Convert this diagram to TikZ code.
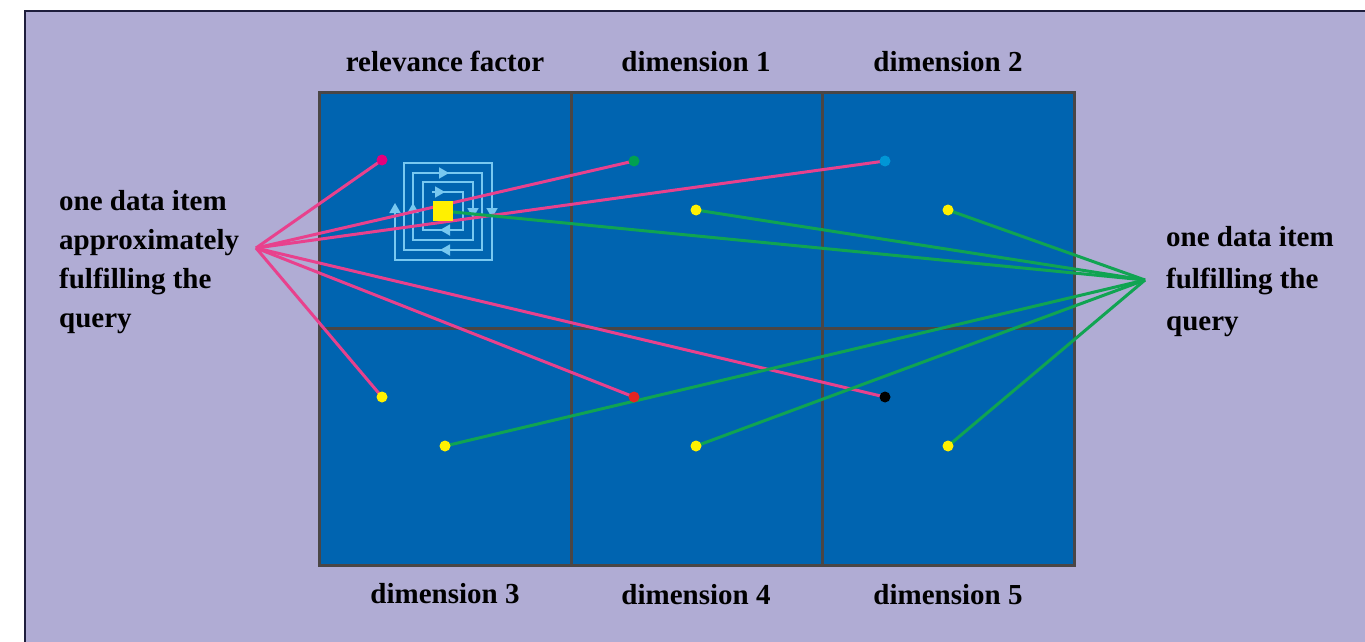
\documentclass[tikz,border=0pt]{standalone}
\usepackage{fontspec}
\setmainfont{Liberation Serif}
\usetikzlibrary{arrows.meta,backgrounds}

\definecolor{lavender}{HTML}{B0ACD4}
\definecolor{frame}{HTML}{1E1E3C}
\definecolor{cellblue}{HTML}{0064B0}
\definecolor{gridgray}{HTML}{4A4646}
\definecolor{spiralblue}{HTML}{78C8F0}
\definecolor{pinkline}{HTML}{E8418D}
\definecolor{greenline}{HTML}{10A452}
\definecolor{dotmagenta}{HTML}{E4007C}
\definecolor{dotgreen}{HTML}{00A050}
\definecolor{dotcyan}{HTML}{0096D6}
\definecolor{dotyellow}{HTML}{FFF000}
\definecolor{dotred}{HTML}{E52421}

\tikzset{
  dimtext/.style={font=\fontsize{29}{35}\selectfont\bfseries,inner sep=0pt},
  sidetext/.style={font=\fontsize{29}{#1}\selectfont\bfseries,inner sep=0pt,align=left},
  dot/.style={circle,fill=#1,inner sep=0pt,minimum size=11pt},
  spiral/.style={draw=spiralblue,line width=1.8pt},
  tip/.style={spiral,-{Triangle[length=10pt,width=11pt]}},
  pinkwire/.style={draw=pinkline,line width=3pt},
  greenwire/.style={draw=greenline,line width=3pt},
}

\begin{document}
\begin{tikzpicture}[x=1pt,y=-1pt]
  \useasboundingbox (0,0) rectangle (1365,642);
  \clip (0,0) rectangle (1365,642);

  % labels
  \node[dimtext,anchor=base] (rel) at (445,71) {relevance factor};
  \node[dimtext,anchor=base] (dim1) at (696,71) {dimension 1};
  \node[dimtext,anchor=base] (dim2) at (948,71) {dimension 2};
  \node[dimtext,anchor=base] (dim3) at (445,603) {dimension 3};
  \node[dimtext,anchor=base] (dim4) at (696,604) {dimension 4};
  \node[dimtext,anchor=base] (dim5) at (948,604) {dimension 5};
  \node[sidetext=39,anchor=base west] (approx) at (59,327)
    {one data item\\approximately\\fulfilling the\\query};
  \node[sidetext=42,anchor=base west] (exact) at (1166,330)
    {one data item\\fulfilling the\\query};

  \coordinate (hubL) at (256,248);
  \coordinate (hubR) at (1145,280);

  % data items
  \node[dot=dotmagenta] (a1) at (382,160) {};
  \node[dot=dotgreen] (a2) at (634,161) {};
  \node[dot=dotcyan] (a3) at (885,161) {};
  \node[dot=dotyellow] (a4) at (382,397) {};
  \node[dot=dotred] (a5) at (634,397) {};
  \node[dot=black] (a6) at (885,397) {};
  \node[dot=dotyellow] (e1) at (696,210) {};
  \node[dot=dotyellow] (e2) at (948,210) {};
  \node[dot=dotyellow] (e3) at (445,446) {};
  \node[dot=dotyellow] (e4) at (696,446) {};
  \node[dot=dotyellow] (e5) at (948,446) {};
  \node[fill=dotyellow,inner sep=0pt,minimum size=20pt] (sq) at (443,211) {};

  \begin{scope}[on background layer]
    \draw[fill=lavender,draw=frame,line width=2pt] (25,11) rectangle (1380,660);
    \draw[fill=cellblue,draw=gridgray,line width=3pt] (319,92) rectangle (1074,565);
    \draw[gridgray,line width=3pt] (571,92) -- (571,565) (822,92) -- (822,565)
      (319,328) -- (1074,328);

    % spiral around the relevance factor
    \draw[spiral,-{Triangle[length=10pt,width=11pt]}] (432,192) -- (463,192) -- (463,230)
      -- (423,230) -- (423,182) -- (473,182) -- (473,240) -- (413,240) -- (413,173)
      -- (482,173) -- (482,250) -- (404,250) -- (404,163) -- (492,163) -- (492,260)
      -- (395,260) -- (395,203);
    \draw[tip] (433,192) -- (445,192);
    \draw[tip] (436,173) -- (449,173);
    \draw[tip] (452,230) -- (440,230);
    \draw[tip] (452,250) -- (440,250);
    \draw[tip] (473,205) -- (473,218);
    \draw[tip] (492,205) -- (492,218);
    \draw[tip] (413,215) -- (413,203);

    \foreach \n in {a1,a2,a3,a4,a5,a6}
      \draw[pinkwire] (hubL) -- (\n.center);
    \foreach \n in {sq,e1,e2,e3,e4,e5}
      \draw[greenwire] (hubR) -- (\n.center);
  \end{scope}
\end{tikzpicture}
\end{document}
